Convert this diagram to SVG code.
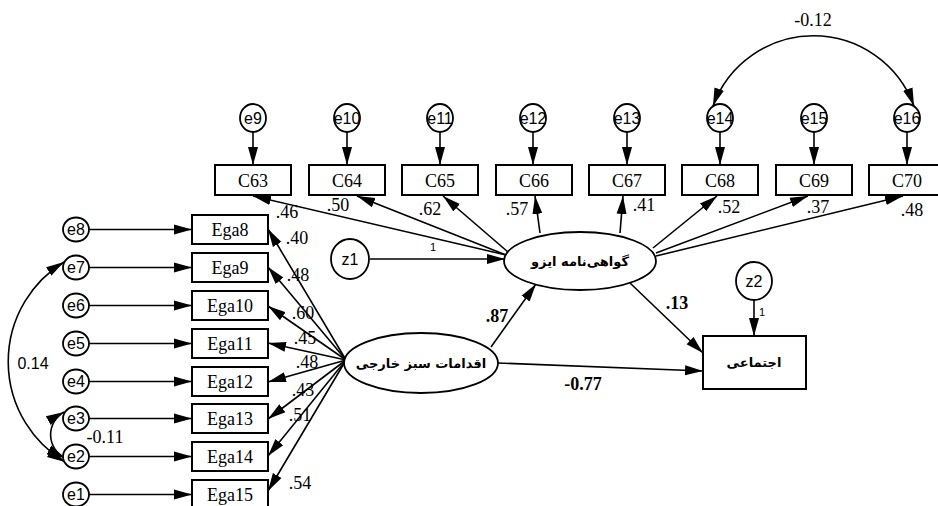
<svg xmlns="http://www.w3.org/2000/svg" width="938" height="506" viewBox="0 0 938 506">
<defs>
<marker id="ah" markerUnits="userSpaceOnUse" markerWidth="20" markerHeight="12" refX="18" refY="6" orient="auto-start-reverse"><path d="M0,1 L18,6 L0,11 z" fill="#000"/></marker>
<style>
.box{fill:#fff;stroke:#000;stroke-width:2}
.circ{fill:#fff;stroke:#000;stroke-width:1.8}
.ln{fill:none;stroke:#000;stroke-width:1.6;marker-end:url(#ah)}
.dbl{fill:none;stroke:#000;stroke-width:1.6;marker-start:url(#ah);marker-end:url(#ah)}
.t{font-family:"Liberation Serif",serif;font-size:18px;text-anchor:middle;fill:#000}
.s{font-family:"Liberation Sans",Arial,sans-serif;font-size:16px;text-anchor:middle;fill:#000}
.b{font-family:"Liberation Serif",serif;font-size:18px;font-weight:bold;text-anchor:middle;fill:#000}
.fa{font-family:"DejaVu Sans",sans-serif;font-size:13px;font-weight:bold;text-anchor:middle;fill:#000}
.one{font-family:"Liberation Sans",Arial,sans-serif;font-size:11px;text-anchor:middle;fill:#000}
</style>
</defs>
<rect width="938" height="506" fill="#fff"/>

<g id="connectors">
<line class="ln" x1="253" y1="132" x2="253" y2="165"/>
<line class="ln" x1="347" y1="132" x2="347" y2="165"/>
<line class="ln" x1="440" y1="132" x2="440" y2="165"/>
<line class="ln" x1="533" y1="132" x2="533" y2="165"/>
<line class="ln" x1="627" y1="132" x2="627" y2="165"/>
<line class="ln" x1="720" y1="132" x2="720" y2="165"/>
<line class="ln" x1="814" y1="132" x2="814" y2="165"/>
<line class="ln" x1="907" y1="132" x2="907" y2="165"/>
<path class="dbl" d="M713,106 A107,107 0 0 1 914,106"/>
<line class="ln" x1="89" y1="229.5" x2="192" y2="229.5"/>
<line class="ln" x1="89" y1="267.5" x2="192" y2="267.5"/>
<line class="ln" x1="89" y1="305.5" x2="192" y2="305.5"/>
<line class="ln" x1="89" y1="343.5" x2="192" y2="343.5"/>
<line class="ln" x1="89" y1="381.5" x2="192" y2="381.5"/>
<line class="ln" x1="89" y1="418.5" x2="192" y2="418.5"/>
<line class="ln" x1="89" y1="456.5" x2="192" y2="456.5"/>
<line class="ln" x1="89" y1="494.5" x2="192" y2="494.5"/>
<path class="dbl" d="M64,262 A117,117 0 0 0 65,462"/>
<path class="dbl" d="M64,412 A26,26 0 0 0 65,458"/>
<line class="ln" x1="346" y1="360" x2="268" y2="229"/>
<line class="ln" x1="346" y1="360" x2="268" y2="267"/>
<line class="ln" x1="346" y1="360" x2="268" y2="306"/>
<line class="ln" x1="346" y1="360" x2="268" y2="343"/>
<line class="ln" x1="346" y1="360" x2="268" y2="382"/>
<line class="ln" x1="346" y1="360" x2="268" y2="419"/>
<line class="ln" x1="346" y1="360" x2="268" y2="456"/>
<line class="ln" x1="346" y1="360" x2="268" y2="491"/>
<line class="ln" x1="506" y1="255" x2="253" y2="196"/>
<line class="ln" x1="506" y1="255" x2="357" y2="196"/>
<line class="ln" x1="508" y1="252" x2="443" y2="196"/>
<line class="ln" x1="540" y1="233" x2="535" y2="196"/>
<line class="ln" x1="620" y1="233" x2="623" y2="196"/>
<line class="ln" x1="653" y1="248" x2="717" y2="196"/>
<line class="ln" x1="656" y1="253" x2="808" y2="196"/>
<line class="ln" x1="656" y1="256" x2="903" y2="196"/>
<line class="ln" x1="370" y1="259" x2="505" y2="259"/>
<line class="ln" x1="491" y1="347" x2="536" y2="284"/>
<line class="ln" x1="630" y1="283" x2="703" y2="353"/>
<line class="ln" x1="498" y1="363" x2="703" y2="371"/>
<line class="ln" x1="754" y1="300" x2="754" y2="336"/>
</g>

<g id="labels">
<text class="t" x="813" y="26">-0.12</text>
<text class="s" x="33" y="369">0.14</text>
<text class="t" x="105" y="443">-0.11</text>
<text class="t" x="287" y="218">.46</text>
<text class="t" x="338" y="211">.50</text>
<text class="t" x="430" y="215">.62</text>
<text class="t" x="517" y="215">.57</text>
<text class="t" x="644" y="211">.41</text>
<text class="t" x="729" y="213">.52</text>
<text class="t" x="818" y="213">.37</text>
<text class="t" x="912" y="216">.48</text>
<text class="t" x="297" y="244">.40</text>
<text class="t" x="298" y="281">.48</text>
<text class="t" x="303" y="319">.60</text>
<text class="t" x="305" y="344">.45</text>
<text class="t" x="307" y="368">.48</text>
<text class="t" x="303" y="396">.43</text>
<text class="t" x="300" y="421">.51</text>
<text class="t" x="300" y="489">.54</text>
<text class="b" x="497" y="322">.87</text>
<text class="b" x="677" y="309">.13</text>
<text class="b" x="583" y="390">-0.77</text>
<text class="one" x="433" y="251">1</text>
<text class="one" x="762" y="316">1</text>
</g>

<g id="e9"><ellipse class="circ" cx="253" cy="118" rx="13" ry="14"/><text class="s" x="253" y="124">e9</text></g>
<g id="e10"><ellipse class="circ" cx="347" cy="118" rx="13" ry="14"/><text class="s" x="347" y="124">e10</text></g>
<g id="e11"><ellipse class="circ" cx="440" cy="118" rx="13" ry="14"/><text class="s" x="440" y="124">e11</text></g>
<g id="e12"><ellipse class="circ" cx="533" cy="118" rx="13" ry="14"/><text class="s" x="533" y="124">e12</text></g>
<g id="e13"><ellipse class="circ" cx="627" cy="118" rx="13" ry="14"/><text class="s" x="627" y="124">e13</text></g>
<g id="e14"><ellipse class="circ" cx="720" cy="118" rx="13" ry="14"/><text class="s" x="720" y="124">e14</text></g>
<g id="e15"><ellipse class="circ" cx="814" cy="118" rx="13" ry="14"/><text class="s" x="814" y="124">e15</text></g>
<g id="e16"><ellipse class="circ" cx="907" cy="118" rx="13" ry="14"/><text class="s" x="907" y="124">e16</text></g>

<g id="C63"><rect class="box" x="215" y="165" width="76" height="30"/><text class="t" x="253" y="187">C63</text></g>
<g id="C64"><rect class="box" x="309" y="165" width="76" height="30"/><text class="t" x="347" y="187">C64</text></g>
<g id="C65"><rect class="box" x="402" y="165" width="76" height="30"/><text class="t" x="440" y="187">C65</text></g>
<g id="C66"><rect class="box" x="496" y="165" width="76" height="30"/><text class="t" x="534" y="187">C66</text></g>
<g id="C67"><rect class="box" x="589" y="165" width="76" height="30"/><text class="t" x="627" y="187">C67</text></g>
<g id="C68"><rect class="box" x="682" y="165" width="76" height="30"/><text class="t" x="720" y="187">C68</text></g>
<g id="C69"><rect class="box" x="776" y="165" width="76" height="30"/><text class="t" x="814" y="187">C69</text></g>
<g id="C70"><rect class="box" x="869" y="165" width="76" height="30"/><text class="t" x="907" y="187">C70</text></g>

<g id="e8"><ellipse class="circ" cx="76" cy="229.5" rx="13" ry="12"/><text class="s" x="76" y="235">e8</text></g>
<g id="e7"><ellipse class="circ" cx="76" cy="267.5" rx="13" ry="12"/><text class="s" x="76" y="273">e7</text></g>
<g id="e6"><ellipse class="circ" cx="76" cy="305.5" rx="13" ry="12"/><text class="s" x="76" y="311">e6</text></g>
<g id="e5"><ellipse class="circ" cx="76" cy="343.5" rx="13" ry="12"/><text class="s" x="76" y="349">e5</text></g>
<g id="e4"><ellipse class="circ" cx="76" cy="381.5" rx="13" ry="12"/><text class="s" x="76" y="387">e4</text></g>
<g id="e3"><ellipse class="circ" cx="76" cy="418.5" rx="13" ry="12"/><text class="s" x="76" y="424">e3</text></g>
<g id="e2"><ellipse class="circ" cx="76" cy="456.5" rx="13" ry="12"/><text class="s" x="76" y="462">e2</text></g>
<g id="e1"><ellipse class="circ" cx="76" cy="494.5" rx="13" ry="12"/><text class="s" x="76" y="500">e1</text></g>

<g id="Ega8"><rect class="box" x="192" y="215" width="76" height="29"/><text class="t" x="230" y="236">Ega8</text></g>
<g id="Ega9"><rect class="box" x="192" y="253" width="76" height="29"/><text class="t" x="230" y="274">Ega9</text></g>
<g id="Ega10"><rect class="box" x="192" y="291" width="76" height="29"/><text class="t" x="230" y="312">Ega10</text></g>
<g id="Ega11"><rect class="box" x="192" y="329" width="76" height="29"/><text class="t" x="230" y="350">Ega11</text></g>
<g id="Ega12"><rect class="box" x="192" y="367" width="76" height="29"/><text class="t" x="230" y="388">Ega12</text></g>
<g id="Ega13"><rect class="box" x="192" y="404" width="76" height="29"/><text class="t" x="230" y="425">Ega13</text></g>
<g id="Ega14"><rect class="box" x="192" y="442" width="76" height="29"/><text class="t" x="230" y="463">Ega14</text></g>
<g id="Ega15"><rect class="box" x="192" y="480" width="76" height="29"/><text class="t" x="230" y="501">Ega15</text></g>

<g id="z1"><ellipse class="circ" cx="350" cy="259" rx="19" ry="20"/><text class="s" x="350" y="265">z1</text></g>
<g id="z2"><ellipse class="circ" cx="754" cy="281" rx="18" ry="19"/><text class="s" x="754" y="287">z2</text></g>
<g id="green"><ellipse class="circ" cx="421" cy="363" rx="77" ry="30"/><text class="fa" x="421" y="368">اقدامات سبز خارجی</text></g>
<g id="iso"><ellipse class="circ" cx="580" cy="261" rx="76" ry="29"/><text class="fa" x="580" y="266">گواهی‌نامه ایزو</text></g>
<g id="social"><rect class="box" x="703" y="336" width="103" height="53"/><text class="fa" x="754" y="367">اجتماعی</text></g>
</svg>
